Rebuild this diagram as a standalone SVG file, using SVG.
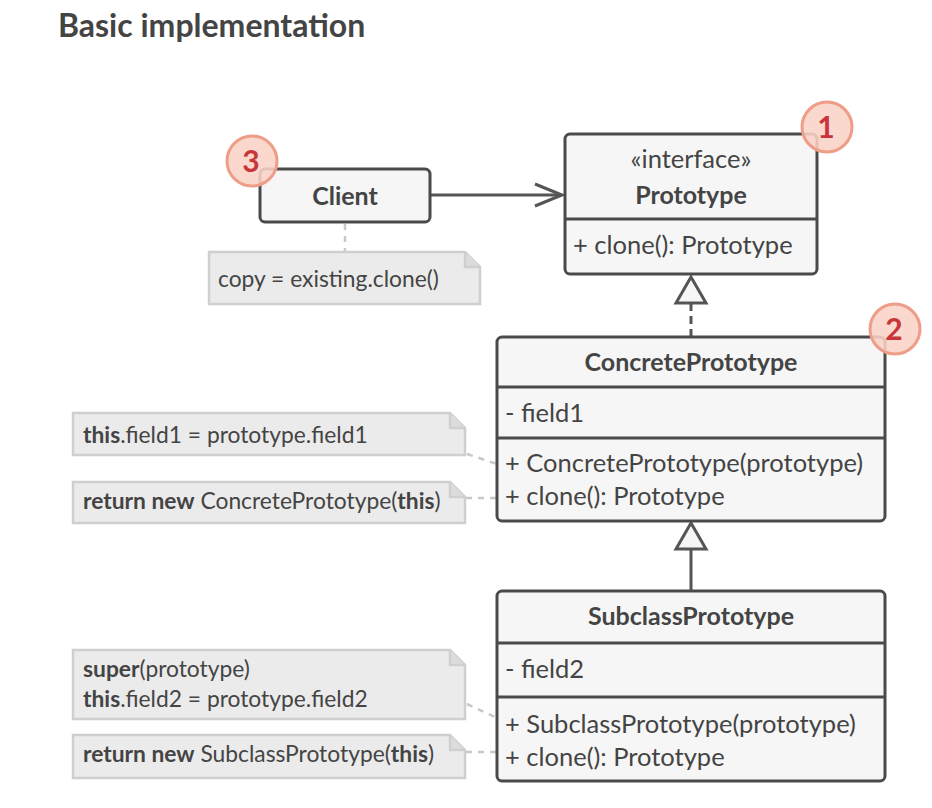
<svg xmlns="http://www.w3.org/2000/svg" width="932" height="808" viewBox="0 0 932 808">
<style>
  text { font-family: Lato, "Noto Sans", "Liberation Sans", sans-serif; fill: #444; }
  .title { font-size: 32px; font-weight: bold; }
  .box { fill: #f6f6f6; stroke: #4a4a4a; stroke-width: 3; }
  .div { stroke: #4a4a4a; stroke-width: 3; }
  .name { font-size: 25px; font-weight: bold; text-anchor: middle; }
  .mem { font-size: 25.5px; }
  .note { fill: #ebebeb; stroke: #cfcfcf; stroke-width: 2.5; }
  .fold { fill: #dcdcdc; stroke: #cfcfcf; stroke-width: 2.5; stroke-linejoin: round; }
  .nt { font-size: 22.8px; }
  .b { font-weight: bold; }
  .badge { fill: #f9d3c6; fill-opacity: 0.88; stroke: #ee9d88; stroke-width: 3; }
  .bnum { font-size: 30px; font-weight: bold; fill: #c8353a; text-anchor: middle; }
  .line { stroke: #555; stroke-width: 3; fill: none; }
  .dash { stroke: #555; stroke-width: 3; fill: none; stroke-dasharray: 8 5; }
  .ndash { stroke: #c8c8c8; stroke-width: 2.5; fill: none; stroke-dasharray: 6 6; }
  .tri { fill: #f6f6f6; stroke: #555; stroke-width: 3; stroke-linejoin: miter; }
</style>

<text class="title" x="58" y="37">Basic implementation</text>

<g id="connectors">
  <path class="line" d="M430,195 H560"/>
  <path class="line" d="M535,184 L562,195 L535,206"/>
  <path class="dash" d="M691,303 V336"/>
  <path class="tri" d="M691,277 L706,303 L676,303 Z"/>
  <path class="line" d="M691,549 V590"/>
  <path class="tri" d="M691,523 L706,549 L676,549 Z"/>
  <path class="ndash" d="M345,224 V252"/>
  <path class="ndash" d="M467,454 L497,464"/>
  <path class="ndash" d="M466,498 H497"/>
  <path class="ndash" d="M467,704 L497,718"/>
  <path class="ndash" d="M466,752 H497"/>
</g>

<g id="note-client">
  <path class="note" d="M209,252 H465 L480,267 V304 H209 Z"/>
  <path class="fold" d="M465,252 V267 H480"/>
  <text class="nt" x="218" y="287">copy = existing.clone()</text>
</g>

<g id="note-concrete-ctor">
  <path class="note" d="M73,413 H450 L465,428 V455 H73 Z"/>
  <path class="fold" d="M450,413 V428 H465"/>
  <text class="nt" x="83" y="443"><tspan class="b">this</tspan>.field1 = prototype.field1</text>
</g>

<g id="note-concrete-clone">
  <path class="note" d="M73,482 H450 L465,497 V523 H73 Z"/>
  <path class="fold" d="M450,482 V497 H465"/>
  <text class="nt" x="83" y="509"><tspan class="b">return new</tspan> ConcretePrototype(<tspan class="b">this</tspan>)</text>
</g>

<g id="note-subclass-ctor">
  <path class="note" d="M73,650 H450 L465,665 V719 H73 Z"/>
  <path class="fold" d="M450,650 V665 H465"/>
  <text class="nt" x="83" y="677"><tspan class="b">super</tspan>(prototype)</text>
  <text class="nt" x="83" y="707"><tspan class="b">this</tspan>.field2 = prototype.field2</text>
</g>

<g id="note-subclass-clone">
  <path class="note" d="M73,735 H450 L465,750 V778 H73 Z"/>
  <path class="fold" d="M450,735 V750 H465"/>
  <text class="nt" x="83" y="762"><tspan class="b">return new</tspan> SubclassPrototype(<tspan class="b">this</tspan>)</text>
</g>

<g id="client">
  <rect class="box" x="260" y="169" width="170" height="53" rx="5"/>
  <text class="name" x="345" y="205">Client</text>
  <circle class="badge" cx="252" cy="161" r="25"/>
  <text class="bnum" x="251" y="172">3</text>
</g>

<g id="prototype">
  <rect class="box" x="565" y="134" width="252" height="140" rx="5"/>
  <line class="div" x1="565" y1="219" x2="817" y2="219"/>
  <text class="mem" x="691" y="168" text-anchor="middle">«interface»</text>
  <text class="name" x="691" y="204">Prototype</text>
  <text class="mem" x="573" y="254">+ clone(): Prototype</text>
  <circle class="badge" cx="827" cy="127" r="25"/>
  <text class="bnum" x="826" y="138">1</text>
</g>

<g id="concrete-prototype">
  <rect class="box" x="497" y="337" width="388" height="184" rx="5"/>
  <line class="div" x1="497" y1="387" x2="885" y2="387"/>
  <line class="div" x1="497" y1="438" x2="885" y2="438"/>
  <text class="name" x="691" y="371">ConcretePrototype</text>
  <text class="mem" x="505" y="422">- field1</text>
  <text class="mem" x="505" y="472">+ ConcretePrototype(prototype)</text>
  <text class="mem" x="505" y="505">+ clone(): Prototype</text>
  <circle class="badge" cx="895" cy="329" r="25"/>
  <text class="bnum" x="894" y="340">2</text>
</g>

<g id="subclass-prototype">
  <rect class="box" x="497" y="591" width="388" height="190" rx="5"/>
  <line class="div" x1="497" y1="643" x2="885" y2="643"/>
  <line class="div" x1="497" y1="697" x2="885" y2="697"/>
  <text class="name" x="691" y="625">SubclassPrototype</text>
  <text class="mem" x="505" y="678">- field2</text>
  <text class="mem" x="505" y="733">+ SubclassPrototype(prototype)</text>
  <text class="mem" x="505" y="766">+ clone(): Prototype</text>
</g>
</svg>
